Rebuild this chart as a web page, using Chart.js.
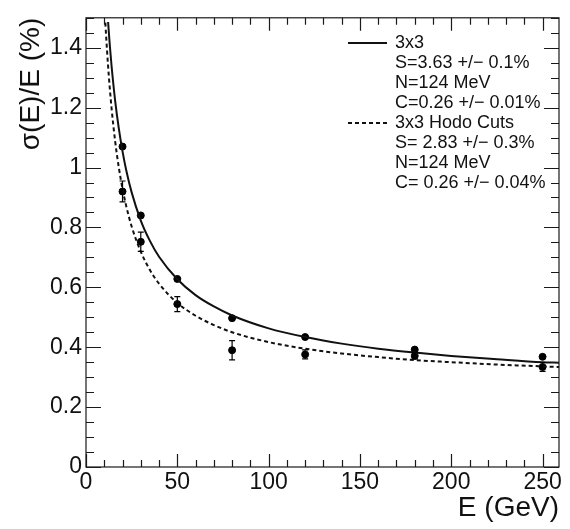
<!DOCTYPE html>
<html>
<head>
<meta charset="utf-8">
<script src="https://cdn.jsdelivr.net/npm/chart.js@4.4.0/dist/chart.umd.min.js"></script>
<style>
  html, body { margin: 0; padding: 0; background: #fff; }
</style>
</head>
<body>
<canvas id="resChart" width="570" height="529"></canvas>
<script>
// beam energies (GeV)
var energies = [20, 30, 50, 80, 120, 180, 250];

// measured resolution, 3x3 sum (%)
var res3x3 = [1.07, 0.84, 0.628, 0.497, 0.434, 0.392, 0.368];

// measured resolution, 3x3 with hodoscope cuts (%) and its errors
var resHodo = [0.92, 0.752, 0.544, 0.39, 0.376, 0.371, 0.334];
var errHodo = [0.035, 0.032, 0.025, 0.032, 0.015, 0.01, 0.015];

// fit curves, sampled along E
var fitE3x3 = [12.1, 13, 14, 16, 18, 20, 22, 25, 30, 35, 40, 50, 60, 70, 80, 100, 120, 140, 160, 180, 200, 225, 250, 259];
var fit3x3 = [1.486, 1.411, 1.339, 1.221, 1.129, 1.054, 0.992, 0.917, 0.823, 0.755, 0.702, 0.627, 0.574, 0.536, 0.506, 0.463, 0.434, 0.412, 0.395, 0.382, 0.371, 0.360, 0.350, 0.348];
var fitEHodo = [10.6, 11, 12, 13, 14, 16, 18, 20, 22, 25, 30, 35, 40, 50, 60, 70, 80, 100, 120, 140, 160, 180, 200, 225, 250, 259];
var fitHodo = [1.484, 1.441, 1.347, 1.267, 1.198, 1.086, 0.999, 0.929, 0.872, 0.803, 0.719, 0.658, 0.612, 0.548, 0.505, 0.474, 0.450, 0.417, 0.395, 0.379, 0.367, 0.357, 0.350, 0.342, 0.336, 0.334];

// legend text
var legend3x3 = ["3x3", "S=3.63 +/\u2212 0.1%", "N=124 MeV", "C=0.26 +/\u2212 0.01%"];
var legendHodo = ["3x3 Hodo Cuts", "S= 2.83 +/\u2212 0.3%", "N=124 MeV", "C= 0.26 +/\u2212 0.04%"];

var FONT = "'Liberation Sans', Arial, Helvetica, sans-serif";

function pts(xs, ys) {
  return xs.map(function (e, i) { return { x: e, y: ys[i] }; });
}

// frame with ROOT style ticks on all four sides
const frameTicks = {
  id: 'frameTicks',
  afterDraw(chart) {
    const { ctx, chartArea: a, scales: { x, y } } = chart;
    ctx.save();
    ctx.strokeStyle = '#1a1a1a';
    ctx.lineWidth = 1.2;
    ctx.strokeRect(a.left, a.top, a.right - a.left, a.bottom - a.top);
    ctx.beginPath();
    for (let v = 0; v <= 250; v += 10) {
      const px = Math.round(x.getPixelForValue(v)) + 0.5;
      const len = v % 50 === 0 ? 13 : 7;
      ctx.moveTo(px, a.bottom); ctx.lineTo(px, a.bottom - len);
      ctx.moveTo(px, a.top); ctx.lineTo(px, a.top + len);
    }
    for (let i = 0; i <= 30; i++) {
      const py = Math.round(y.getPixelForValue(i * 0.05)) + 0.5;
      const len = i % 4 === 0 ? 15 : 8;
      ctx.moveTo(a.left, py); ctx.lineTo(a.left + len, py);
      ctx.moveTo(a.right, py); ctx.lineTo(a.right - len, py);
    }
    ctx.stroke();
    ctx.restore();
  }
};

// vertical error bars on the hodo-cut points
const errorBars = {
  id: 'errorBars',
  afterDatasetsDraw(chart) {
    const { ctx, scales: { x, y } } = chart;
    ctx.save();
    ctx.strokeStyle = '#000';
    ctx.lineWidth = 1.2;
    ctx.beginPath();
    energies.forEach(function (e, i) {
      const px = x.getPixelForValue(e);
      const lo = y.getPixelForValue(resHodo[i] - errHodo[i]);
      const hi = y.getPixelForValue(resHodo[i] + errHodo[i]);
      ctx.moveTo(px, lo); ctx.lineTo(px, hi);
      ctx.moveTo(px - 3, lo); ctx.lineTo(px + 3, lo);
      ctx.moveTo(px - 3, hi); ctx.lineTo(px + 3, hi);
    });
    ctx.stroke();
    ctx.restore();
  }
};

// fit legend in the upper right corner
const fitLegend = {
  id: 'fitLegend',
  afterDraw(chart) {
    const ctx = chart.ctx;
    ctx.save();
    ctx.fillStyle = '#111';
    ctx.font = '18px ' + FONT;
    ctx.textBaseline = 'middle';
    ctx.textAlign = 'left';
    const lx = 395, ly = 43, step = 20;
    legend3x3.concat(legendHodo).forEach(function (t, i) {
      ctx.fillText(t, lx, ly + i * step);
    });
    ctx.strokeStyle = '#111';
    ctx.lineWidth = 2;
    ctx.beginPath();
    ctx.moveTo(348, ly); ctx.lineTo(387, ly);
    ctx.stroke();
    ctx.setLineDash([4, 3]);
    ctx.beginPath();
    ctx.moveTo(348, ly + 4 * step); ctx.lineTo(387, ly + 4 * step);
    ctx.stroke();
    ctx.restore();
  }
};

const chart = new Chart("resChart", {
  type: "scatter",
  data: {
    datasets: [{
      type: "line",
      data: pts(fitE3x3, fit3x3),
      borderColor: "#111",
      borderWidth: 2,
      pointRadius: 0,
      cubicInterpolationMode: "monotone",
      fill: false
    }, {
      type: "line",
      data: pts(fitEHodo, fitHodo),
      borderColor: "#111",
      borderWidth: 2,
      borderDash: [4, 3],
      pointRadius: 0,
      cubicInterpolationMode: "monotone",
      fill: false
    }, {
      data: pts(energies, res3x3),
      backgroundColor: "#000",
      borderColor: "#000",
      pointRadius: 3.5
    }, {
      data: pts(energies, resHodo),
      backgroundColor: "#000",
      borderColor: "#000",
      pointRadius: 3.5
    }]
  },
  options: {
    responsive: false,
    animation: false,
    devicePixelRatio: 1,
    layout: { padding: { top: 12, right: 11, left: 0, bottom: 0 } },
    plugins: {
      legend: { display: false },
      tooltip: { enabled: false }
    },
    scales: {
      x: {
        type: "linear",
        min: 0,
        max: 259,
        grid: { display: false, drawTicks: false },
        border: { display: false },
        ticks: {
          stepSize: 50,
          includeBounds: false,
          maxRotation: 0,
          padding: 2,
          color: "#111",
          font: { family: FONT, size: 23 }
        },
        title: {
          display: true,
          text: "E (GeV)",
          align: "end",
          color: "#111",
          padding: { top: 0, bottom: 4 },
          font: { family: FONT, size: 28 }
        },
        afterFit: function (s) { s.height = 62; }
      },
      y: {
        min: 0,
        max: 1.5,
        grid: { display: false, drawTicks: false },
        border: { display: false },
        ticks: {
          stepSize: 0.2,
          includeBounds: false,
          padding: 4,
          color: "#111",
          font: { family: FONT, size: 23 },
          callback: function (v) { return String(+v.toFixed(2)); }
        },
        title: {
          display: true,
          text: "\u03c3(E)/E (%)",
          align: "end",
          color: "#111",
          padding: { top: 14, bottom: 0 },
          font: { family: FONT, size: 28 }
        },
        afterFit: function (s) { s.width = 86; }
      }
    }
  },
  plugins: [frameTicks, errorBars, fitLegend]
});
</script>
</body>
</html>
